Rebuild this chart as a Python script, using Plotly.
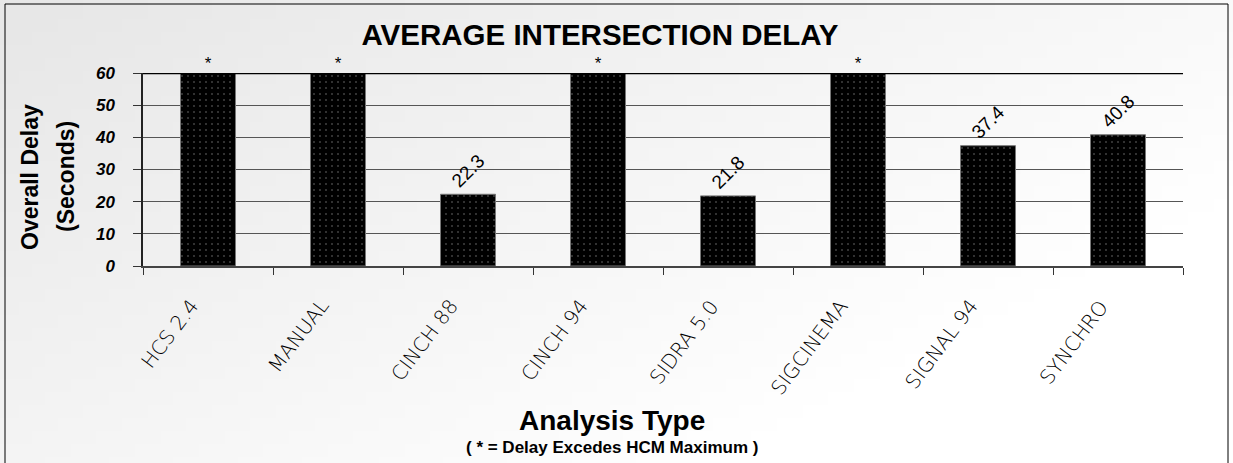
import plotly.graph_objects as go
import zlib, struct, base64

# ---- data ----
categories = ["HCS 2.4", "MANUAL", "CINCH 88", "CINCH 94", "SIDRA 5.0", "SIGCINEMA", "SIGNAL 94", "SYNCHRO"]
delay_values = [60, 60, 22.3, 60, 21.8, 60, 37.4, 40.8]
exceeds_max = [True, True, False, True, False, True, False, False]
y_ticks = [0, 10, 20, 30, 40, 50, 60]
y_max = 60

value_text = ["" if e else f"{v:.1f}" for v, e in zip(delay_values, exceeds_max)]
star_x = [c for c, e in zip(categories, exceeds_max) if e]
star_y = [v for v, e in zip(delay_values, exceeds_max) if e]


# ---- background gradient image (style only) ----
def gradient_png(w=96, h=36):
    rows = b""
    for j in range(h):
        row = b"\x00"
        for i in range(w):
            t = min(1.0, (0.62 * i / (w - 1) + 0.45 * j / (h - 1)) * 1.25)
            v = int(231 + (255 - 231) * t)
            row += bytes([v, v, v])
        rows += row
    def chunk(tag, data):
        c = struct.pack(">I", len(data)) + tag + data
        return c + struct.pack(">I", zlib.crc32(tag + data) & 0xffffffff)
    png = b"\x89PNG\r\n\x1a\n"
    png += chunk(b"IHDR", struct.pack(">IIBBBBB", w, h, 8, 2, 0, 0, 0))
    png += chunk(b"IDAT", zlib.compress(rows))
    png += chunk(b"IEND", b"")
    return "data:image/png;base64," + base64.b64encode(png).decode()


W, H = 1233, 463
L, R, T, B = 143, 50, 73, 197
PW, PH = W - L - R, H - T - B

def px_to_paper_x(px):
    return (px - L) / PW

def px_to_paper_y(py):
    return (H - B - py) / PH

fig = go.Figure()

fig.add_trace(go.Bar(
    x=categories,
    y=delay_values,
    text=value_text,
    textposition="outside",
    textangle=-45,
    textfont=dict(family="Liberation Sans, Arial", size=19, color="black"),
    cliponaxis=False,
    marker=dict(
        color="black",
        line=dict(color="#777777", width=1),
        pattern=dict(shape=".", bgcolor="black", fgcolor="#dddddd", size=6, solidity=0.06),
    ),
    hoverinfo="x+y",
    showlegend=False,
))

fig.add_trace(go.Scatter(
    x=star_x,
    y=star_y,
    mode="text",
    text=["*"] * len(star_x),
    textposition="top center",
    textfont=dict(family="Liberation Sans, Arial", size=17, color="black"),
    cliponaxis=False,
    hoverinfo="skip",
    showlegend=False,
))

# category labels as rotated annotations (top-right corner anchored below each category)
cat_annotations = [
    dict(text=c, x=c, xref="x", y=0, yref="y", showarrow=False,
         textangle=-53, xanchor="right", yanchor="top", xshift=-2, yshift=-26,
         font=dict(family="DejaVu Sans", size=20, color="black", weight=200))
    for c in categories
]

fig.update_layout(
    width=W, height=H, autosize=False,
    margin=dict(l=L, r=R, t=T, b=B, pad=0),
    paper_bgcolor="#f4f4f4",
    plot_bgcolor="white",
    bargap=0.577,
    title=dict(
        text="<b>AVERAGE INTERSECTION DELAY</b>",
        font=dict(family="Liberation Sans, Arial", size=29.5, color="black"),
        x=600 / W, xanchor="center", xref="container",
        y=1 - 35 / H, yanchor="middle", yref="container",
    ),
    images=[dict(
        source=gradient_png(), xref="paper", yref="paper",
        x=px_to_paper_x(0), y=px_to_paper_y(0),
        sizex=W / PW, sizey=H / PH, sizing="stretch",
        xanchor="left", yanchor="top", layer="below",
    )],
    xaxis=dict(
        type="category",
        tickson="boundaries",
        ticks="outside", ticklen=7, tickwidth=1, tickcolor="#333333",
        showticklabels=False,
        showline=True, linecolor="#444444", linewidth=2,
        showgrid=False,
        range=[-0.5, len(categories) - 0.5],
    ),
    yaxis=dict(
        range=[0, y_max],
        tickvals=y_ticks,
        ticks="outside", ticklen=8, tickwidth=1, tickcolor="#333333",
        tickfont=dict(family="Liberation Sans, Arial", size=17, color="black", weight="bold", style="italic"),
        ticklabelstandoff=15,
        showline=True, linecolor="#222222", linewidth=1.5,
        showgrid=True, gridcolor="#555555", gridwidth=1.2,
        zeroline=False,
    ),
    shapes=[
        dict(type="line", xref="paper", yref="y", x0=0, x1=1, y0=y_max, y1=y_max,
             line=dict(color="black", width=2.5), layer="above"),
        dict(type="rect", xref="paper", yref="paper",
             x0=px_to_paper_x(5), x1=px_to_paper_x(1228),
             y0=px_to_paper_y(470), y1=px_to_paper_y(4),
             line=dict(color="black", width=1), fillcolor="rgba(0,0,0,0)", layer="above"),
    ],
    annotations=cat_annotations + [
        dict(text="<b>Overall Delay</b>", textangle=-90, showarrow=False,
             xref="paper", yref="paper", x=px_to_paper_x(30), y=px_to_paper_y(177),
             xanchor="center", yanchor="middle",
             font=dict(family="Liberation Sans, Arial", size=23, color="black")),
        dict(text="<b>(Seconds)</b>", textangle=-90, showarrow=False,
             xref="paper", yref="paper", x=px_to_paper_x(66), y=px_to_paper_y(177),
             xanchor="center", yanchor="middle",
             font=dict(family="Liberation Sans, Arial", size=23, color="black")),
        dict(text="<b>Analysis Type</b>", showarrow=False,
             xref="paper", yref="paper", x=px_to_paper_x(612), y=px_to_paper_y(420),
             xanchor="center", yanchor="middle",
             font=dict(family="Liberation Sans, Arial", size=28, color="black")),
        dict(text="<b>( * = Delay Excedes HCM Maximum )</b>", showarrow=False,
             xref="paper", yref="paper", x=px_to_paper_x(612), y=px_to_paper_y(447),
             xanchor="center", yanchor="middle",
             font=dict(family="Liberation Sans, Arial", size=17, color="black")),
    ],
)

fig.write_html(
    "out.html",
    config={"displayModeBar": False},
    post_script="document.body.style.margin='0px';document.body.style.overflow='hidden';",
)
